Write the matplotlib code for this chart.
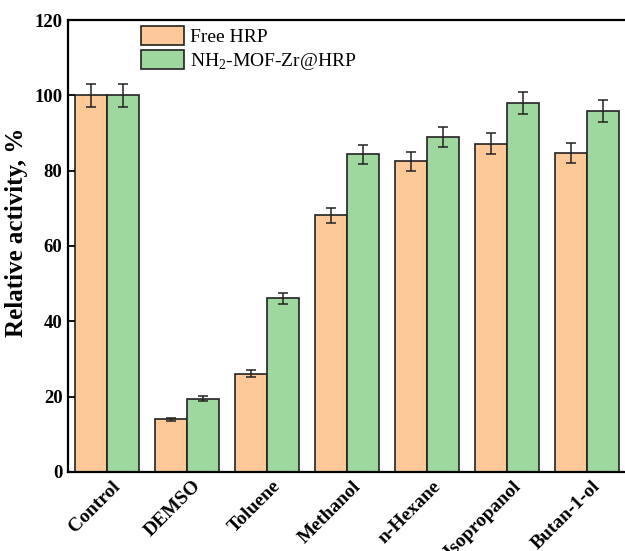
import matplotlib
matplotlib.use("Agg")
import matplotlib.pyplot as plt
import matplotlib.transforms as mtransforms
import numpy as np

plt.rcParams['font.family'] = 'Liberation Serif'
plt.rcParams['mathtext.fontset'] = 'custom'
plt.rcParams['mathtext.rm'] = 'Liberation Serif'

solvents = ['Control', 'DEMSO', 'Toluene', 'Methanol', 'n-Hexane', 'Isopropanol', 'Butan-1-ol']
free_hrp = [100.0, 14.0, 26.1, 68.2, 82.5, 87.2, 84.7]
free_err = [3.0, 0.45, 0.9, 2.0, 2.5, 2.7, 2.6]
mof_hrp = [100.0, 19.5, 46.1, 84.4, 88.9, 97.9, 95.9]
mof_err = [3.0, 0.6, 1.4, 2.5, 2.75, 2.9, 2.9]

fig = plt.figure(figsize=(6.25, 5.51), dpi=100)
ax = fig.add_axes([0.1088, 0.1434, 0.8928, 0.8203])

x = np.arange(len(solvents))
w = 0.395
err_kw = dict(ecolor='#222222', elinewidth=1.1, capsize=3.3, capthick=1.1)
ax.bar(x - w / 2, free_hrp, w, yerr=free_err, color='#fdc998', edgecolor='#222222',
       linewidth=1.2, label='Free HRP', error_kw=err_kw)
ax.bar(x + w / 2, mof_hrp, w, yerr=mof_err, color='#9ed89e', edgecolor='#222222',
       linewidth=1.2, label='NH$_\\mathregular{2}$-MOF-Zr@HRP', error_kw=err_kw)

ax.set_xlim(-0.4875, 6.4875)
ax.set_ylim(0, 120)
ax.set_yticks(np.arange(0, 121, 20))
ax.tick_params(axis='y', direction='in', length=5, width=1.3, labelsize=13.5, pad=4)
ax.tick_params(axis='x', length=0, labelsize=14, pad=4)
for lbl in ax.get_yticklabels():
    lbl.set_fontweight('bold')

ax.set_xticks(x)
ax.set_xticklabels(solvents, rotation=45, ha='right', va='top', fontweight='bold')
# nudge rotated labels so they end just right of each group centre
shift = mtransforms.ScaledTranslation(17 / 100, 0, fig.dpi_scale_trans)
for lbl in ax.get_xticklabels():
    lbl.set_transform(lbl.get_transform() + shift)

ax.set_ylabel('Relative activity, %', fontsize=18, fontweight='bold')
ax.yaxis.set_label_coords(-0.072, 0.53)

for side in ['left', 'bottom', 'top']:
    ax.spines[side].set_linewidth(1.6)
ax.spines['right'].set_visible(False)

ax.legend(loc='upper left', bbox_to_anchor=(141 / 625, 1 - 26 / 551),
          bbox_transform=fig.transFigure, frameon=False, fontsize=14,
          handlelength=2.2, handleheight=1.1, handletextpad=0.3,
          labelspacing=0.2, borderpad=0, borderaxespad=0)

fig.savefig('out.png', dpi=100)
